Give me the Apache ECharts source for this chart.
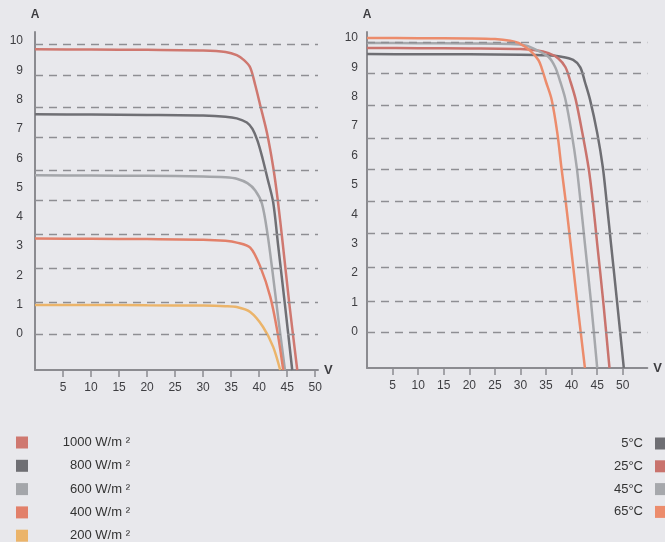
<!DOCTYPE html>
<html>
<head>
<meta charset="utf-8">
<script src="https://cdn.jsdelivr.net/npm/echarts@6/dist/echarts.min.js"></script>
<style>
html,body{margin:0;padding:0;background:#e8e8ec;}
#c{width:665px;height:542px;}
</style>
</head>
<body>
<div id="c"></div>
<script>
// ---- data (V, A) ----
const xTicks = [5, 10, 15, 20, 25, 30, 35, 40, 45, 50];
const yTicks = [0, 1, 2, 3, 4, 5, 6, 7, 8, 9, 10];
const gridLeft = [9.9, 8.85, 7.75, 6.7, 5.6, 4.55, 3.4, 2.25, 1.1, 0];
const gridRight = [9.85, 8.8, 7.7, 6.6, 5.55, 4.45, 3.35, 2.2, 1.05, 0];

const irrNames = ['1000 W/m ²', '800 W/m ²', '600 W/m ²', '400 W/m ²', '200 W/m ²'];
const irr1000 = [[0,9.72],[10,9.71],[20,9.7],[30,9.68],[34,9.63],[36,9.52],[37.3,9.35],[38.4,9.1],[39.3,8.5],[40.2,7.8],[41.4,6.86],[42.5,5.7],[43.3,4.6],[44.2,3.1],[45.4,1.0],[46.8,-1.23]];
const irr800 = [[0,7.5],[10,7.49],[20,7.48],[30,7.46],[34,7.42],[36,7.36],[37.8,7.22],[38.8,7.0],[39.7,6.6],[40.6,6.0],[41.5,5.3],[42.5,4.5],[43.4,3.0],[44.6,1.0],[45.9,-1.23]];
const irr600 = [[0,5.42],[10,5.41],[20,5.4],[30,5.38],[34,5.35],[36,5.3],[37.9,5.15],[39.3,4.9],[40.5,4.45],[41.5,3.4],[42.4,2.1],[43.4,0.55],[44.6,-1.23]];
const irr400 = [[0,3.26],[10,3.25],[20,3.24],[30,3.22],[34,3.18],[36,3.12],[38.4,2.95],[40.2,2.3],[42,1.26],[43.2,0.14],[44.3,-1.23]];
const irr200 = [[0,0.99],[10,0.99],[20,0.98],[30,0.97],[34,0.95],[36,0.92],[38.4,0.75],[40.7,0.24],[42.5,-0.44],[43.75,-1.23]];

const tempNames = ['5°C', '25°C', '45°C', '65°C'];
const t5 = [[0,9.45],[10,9.44],[20,9.44],[30,9.43],[35,9.41],[38,9.36],[40.3,9.25],[41.7,9.0],[42.6,8.5],[43.6,7.9],[45.0,6.77],[46.1,5.6],[46.8,4.5],[47.7,3.0],[48.9,1.0],[50.2,-1.22]];
const t25 = [[0,9.66],[10,9.65],[20,9.64],[30,9.62],[33,9.58],[35.5,9.48],[37.4,9.3],[38.8,9.0],[39.8,8.5],[40.8,7.9],[42.1,6.77],[43.3,5.6],[44.1,4.5],[45.0,3.0],[46.2,1.0],[47.4,-1.22]];
const t45 = [[0,9.83],[10,9.82],[20,9.81],[28,9.79],[31,9.74],[33,9.6],[35.5,9.35],[36.8,9.0],[37.8,8.5],[38.8,7.9],[40.0,6.77],[41.0,5.6],[41.7,4.5],[42.6,3.0],[43.8,1.0],[45.0,-1.22]];
const t65 = [[0,10.0],[10,9.99],[20,9.98],[25,9.96],[28,9.9],[30,9.8],[32,9.55],[33.5,9.25],[34.1,9.0],[35.0,8.5],[36.1,7.9],[37.2,6.77],[38.0,5.6],[38.8,4.5],[39.8,3.0],[41.1,1.0],[42.6,-1.22]];

const irrColors = ['#cf7870', '#6f6f74', '#a4a6aa', '#e2806a', '#ebb46a'];
const tempColors = ['#6e6e73', '#c9736d', '#a6a8ac', '#ec8c6c'];

const axisCol = '#8b8b90';
const txtCol = '#3e3e42';
const font = 'Liberation Sans, Arial, sans-serif';

function xAxis(gi, max) {
  return {
    type: 'value', gridIndex: gi, min: 0, max: max,
    name: 'V', nameLocation: 'end', nameGap: 6,
    nameTextStyle: {color: txtCol, fontSize: 13, fontWeight: 'bold', fontFamily: font, verticalAlign: 'middle'},
    axisLine: {onZero: false, lineStyle: {color: axisCol, width: 2}},
    axisTick: {show: true, inside: false, length: 7, customValues: xTicks, lineStyle: {color: axisCol, width: 1.5}},
    axisLabel: {customValues: xTicks, color: txtCol, fontSize: 12, fontFamily: font, margin: 12},
    splitLine: {show: false}
  };
}
function yAxis(gi, min, max, margin) {
  return {
    type: 'value', gridIndex: gi, min: min, max: max,
    name: 'A', nameLocation: 'end', nameGap: 11,
    nameTextStyle: {color: txtCol, fontSize: 12, fontWeight: 'bold', fontFamily: font, align: 'center'},
    axisLine: {show: true, onZero: false, lineStyle: {color: axisCol, width: 2}},
    axisTick: {show: false},
    axisLabel: {customValues: yTicks, color: txtCol, fontSize: 12, fontFamily: font, margin: margin},
    splitLine: {show: false}
  };
}
function gridMark(vals) {
  return {
    silent: true, symbol: ['none', 'none'], label: {show: false},
    lineStyle: {color: '#8e8e93', width: 1.4, type: [8, 6]},
    data: vals.map(v => ({yAxis: v}))
  };
}
function line(name, data, color, xi, yi, mark) {
  const s = {
    name: name, type: 'line', data: data, xAxisIndex: xi, yAxisIndex: yi,
    showSymbol: false, smooth: 0.3, clip: true,
    lineStyle: {color: color, width: 2.5}, itemStyle: {color: color},
    z: 3
  };
  if (mark) s.markLine = mark;
  return s;
}

const series = [
  line(irrNames[0], irr1000, irrColors[0], 0, 0, gridMark(gridLeft)),
  line(irrNames[1], irr800, irrColors[1], 0, 0),
  line(irrNames[2], irr600, irrColors[2], 0, 0),
  line(irrNames[3], irr400, irrColors[3], 0, 0),
  line(irrNames[4], irr200, irrColors[4], 0, 0),
  line(tempNames[0], t5, tempColors[0], 1, 1, gridMark(gridRight)),
  line(tempNames[1], t25, tempColors[1], 1, 1),
  line(tempNames[2], t45, tempColors[2], 1, 1),
  line(tempNames[3], t65, tempColors[3], 1, 1)
];

const chart = echarts.init(document.getElementById('c'));
chart.setOption({
  animation: false,
  backgroundColor: '#e8e8ec',
  grid: [
    {left: 35, top: 32, width: 283, height: 338},
    {left: 367, top: 32, width: 283, height: 336}
  ],
  xAxis: [xAxis(0, 50.5), xAxis(1, 54.8)],
  yAxis: [yAxis(0, -1.23, 10.31, 12), yAxis(1, -1.224, 10.2, 9)],
  legend: [
    {
      data: irrNames, orient: 'vertical', left: 16, top: 436, height: 160, padding: 0,
      itemWidth: 12, itemHeight: 12, itemGap: 10.3, icon: 'rect',
      selectedMode: false,
      formatter: n => '{a|' + n + '}',
      textStyle: {rich: {a: {width: 97, align: 'right', color: '#333', fontSize: 13, fontFamily: font}}}
    },
    {
      data: tempNames, orient: 'vertical', right: -2, top: 437, height: 160, padding: 0, align: 'right',
      itemWidth: 12, itemHeight: 12, itemGap: 9.8, icon: 'rect',
      selectedMode: false,
      formatter: n => '{a|' + n + '}',
      textStyle: {rich: {a: {width: 40, align: 'right', color: '#333', fontSize: 13, fontFamily: font, padding: [0, 7, 0, 0]}}}
    }
  ],
  series: series
});
</script>
</body>
</html>
